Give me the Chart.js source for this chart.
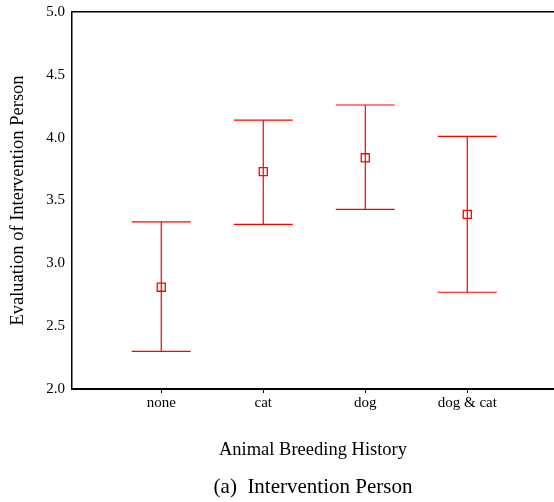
<!DOCTYPE html>
<html>
<head>
<meta charset="utf-8">
<script src="https://cdn.jsdelivr.net/npm/chart.js@4/dist/chart.umd.min.js"></script>
<style>
  html, body { margin: 0; padding: 0; background: #fff; overflow: hidden; }
  #wrap { width: 554px; height: 502px; }
</style>
</head>
<body>
<div id="wrap"><canvas id="c" width="554" height="502"></canvas></div>
<script>
const categories = ["none", "cat", "dog", "dog & cat"];
const means = [2.81, 3.73, 3.84, 3.39];
const upper = [3.33, 4.14, 4.26, 4.01];
const lower = [2.30, 3.31, 3.43, 2.77];
const yTicks = [2.0, 2.5, 3.0, 3.5, 4.0, 4.5, 5.0];

const RED = 'rgb(255,0,0)';
const serif = "'Liberation Serif', 'Times New Roman', serif";

const meanPts = means.map((v, i) => ({ x: i + 1, y: v }));
const capPts = [];
categories.forEach((c, i) => {
  capPts.push({ x: i + 1, y: upper[i] });
  capPts.push({ x: i + 1, y: lower[i] });
});
const stemPts = [];
categories.forEach((c, i) => {
  stemPts.push({ x: i + 1, y: lower[i] });
  stemPts.push({ x: i + 1, y: upper[i] });
  stemPts.push({ x: i + 1.5, y: null });
});

function noPad(s) {
  s.paddingTop = 0; s.paddingBottom = 0; s.paddingLeft = 0; s.paddingRight = 0;
}

new Chart(document.getElementById('c'), {
  type: 'scatter',
  data: {
    datasets: [
      {
        type: 'line',
        data: stemPts,
        borderColor: RED,
        borderWidth: 1.2,
        pointRadius: 0,
        spanGaps: false,
        fill: false
      },
      {
        data: capPts,
        pointStyle: 'line',
        pointRadius: 29.5,
        pointBorderColor: RED,
        pointBorderWidth: 1.2,
        borderColor: RED,
        showLine: false
      },
      {
        data: meanPts,
        pointStyle: 'rect',
        pointRadius: 5.7,
        pointBorderColor: RED,
        pointBackgroundColor: 'rgba(0,0,0,0)',
        pointBorderWidth: 1.3,
        showLine: false
      }
    ]
  },
  options: {
    responsive: false,
    animation: false,
    events: [],
    layout: { autoPadding: false, padding: { top: 12, left: 0, right: 0, bottom: 0 } },
    plugins: {
      legend: { display: false },
      tooltip: { enabled: false },
      title: {
        display: true,
        position: 'bottom',
        fullSize: false,
        text: '(a)  Intervention Person',
        color: '#000',
        font: { family: serif, size: 21, weight: 'normal' },
        padding: { top: 6, bottom: 2.4 }
      }
    },
    scales: {
      x: {
        type: 'linear',
        position: 'bottom',
        min: 0.125,
        max: 4.85,
        afterBuildTicks: s => { s.ticks = categories.map((c, i) => ({ value: i + 1 })); },
        afterFit: s => { s.height = 79.4; noPad(s); },
        ticks: {
          color: '#000',
          font: { family: serif, size: 15 },
          padding: 1,
          maxRotation: 0,
          autoSkip: false,
          callback: v => categories[Math.round(v) - 1]
        },
        grid: { drawOnChartArea: false, drawTicks: true, tickLength: 4, color: '#000', lineWidth: 1 },
        border: { display: true, color: '#000', width: 2 },
        title: {
          display: true,
          text: 'Animal Breeding History',
          color: '#000',
          font: { family: serif, size: 18.5 },
          padding: { top: 0, bottom: 7.3 }
        }
      },
      x2: {
        type: 'linear',
        position: 'top',
        min: 0.125,
        max: 4.85,
        afterFit: s => { s.height = 0; noPad(s); },
        ticks: { display: false },
        grid: { drawOnChartArea: false, drawTicks: false },
        border: { display: true, color: '#000', width: 1.5 }
      },
      y: {
        type: 'linear',
        min: 2,
        max: 5,
        afterBuildTicks: s => { s.ticks = yTicks.map(v => ({ value: v })); },
        afterFit: s => { s.width = 72; noPad(s); },
        ticks: {
          color: '#000',
          font: { family: serif, size: 15 },
          padding: 7,
          callback: v => Number(v).toFixed(1)
        },
        grid: { drawOnChartArea: false, drawTicks: false },
        border: { display: true, color: '#000', width: 1.5 },
        title: {
          display: true,
          text: 'Evaluation of Intervention Person',
          color: '#000',
          font: { family: serif, size: 18.5 },
          padding: { top: 7.4, bottom: 0 }
        }
      }
    }
  }
});
</script>
</body>
</html>
